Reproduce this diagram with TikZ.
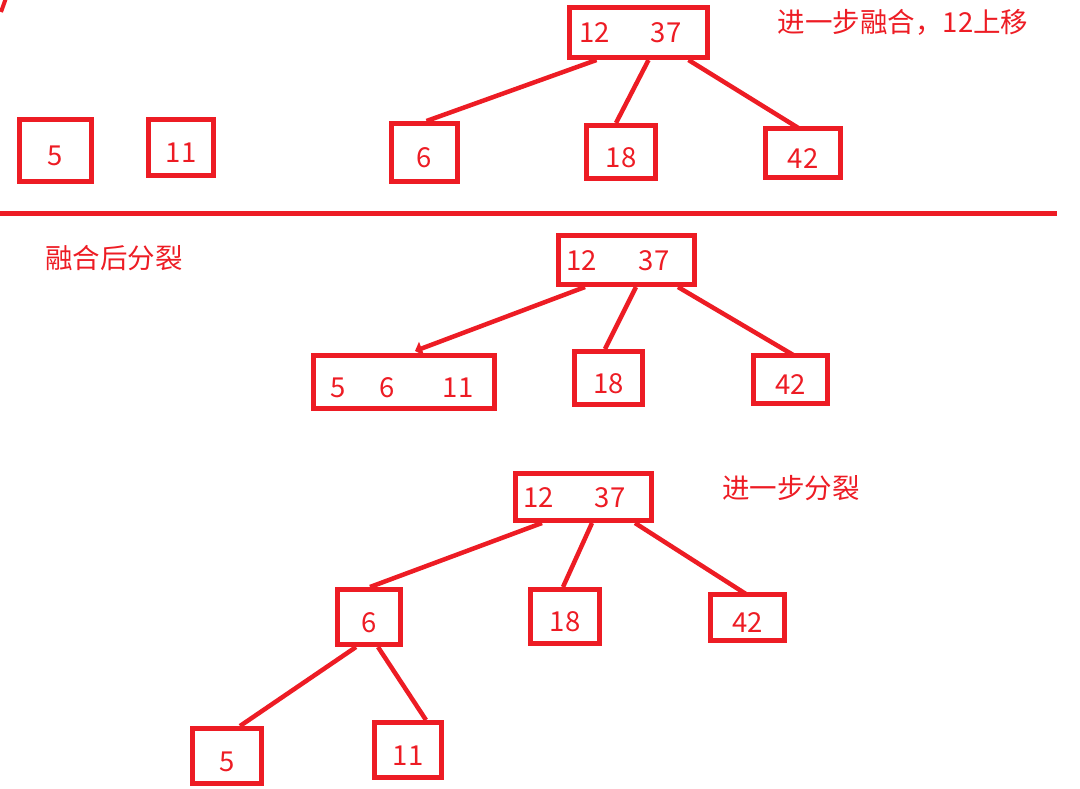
\documentclass[tikz,border=0pt]{standalone}
\usepackage{fontspec}
\setmainfont{Noto Sans CJK SC}
\usepackage{tikz}
\usetikzlibrary{arrows.meta, positioning, calc}
\definecolor{pred}{RGB}{237,28,36}

\begin{document}
\begin{tikzpicture}[x=1pt, y=-1pt,
    key/.style={draw=pred, text=pred, line width=5pt, inner sep=0pt, minimum width=66pt, minimum height=56pt, text height=30pt, text depth=0pt, font=\fontsize{27.5}{33}\selectfont},
    pair/.style={key, text height=20pt},
    link/.style={draw=pred, line width=4.5pt},
    note/.style={text=pred, inner sep=0pt, font=\fontsize{27.5}{33}\selectfont},
]
  \useasboundingbox (0,0) rectangle (1080,788);

  % Step 1: merge, 12 moves up
  \node[pair, minimum width=138pt, minimum height=50pt] (r1) at (638.5,32.5) {12\hspace{41pt}37\kern16pt};
  \node[key, minimum width=72pt, minimum height=62pt] (t5) at (55,150) {5};
  \node[key, minimum width=65pt, minimum height=56pt] (t11) at (181,147.5) {11};
  \node[key, minimum width=66pt, minimum height=58pt] (t6) at (424.5,152.5) {6};
  \node[key, minimum width=69pt, minimum height=53pt] (t18) at (621,152) {18};
  \node[key, minimum width=75pt, minimum height=49pt] (t42) at (803,153) {42};
  \node[note] (n1) at (903,22) {进一步融合，12上移};

  \draw[link] ([xshift=-42pt]r1.south) -- ([xshift=2pt]t6.north);
  \draw[link] ([xshift=10pt]r1.south) -- ([xshift=-5pt]t18.north);
  \draw[link] ([xshift=50pt]r1.south) -- ([xshift=-3pt, yshift=-3pt]t42.north);

  \draw[pred, line width=4pt] (6,-2) -- (1,12);
  \draw[pred, line width=5pt] (0,213) -- (1057,213);

  % Step 2: split after merge
  \node[note] (n2) at (114,258) {融合后分裂};
  \node[pair, minimum width=136pt, minimum height=49pt] (r2) at (626.5,260) {12\hspace{42pt}37\kern17pt};
  \node[key, minimum width=181pt, minimum height=53pt] (m5) at (404,382) {5\hspace{34pt}6\hspace{48pt}11\kern4pt};
  \node[key, minimum width=68pt, minimum height=53pt] (m18) at (608.5,378) {18};
  \node[key, minimum width=74pt, minimum height=48pt] (m42) at (790.5,379.5) {42};

  \draw[link, -{Triangle[width=14pt, length=7pt]}] ([xshift=-41.5pt]r2.south) -- ([xshift=11pt, yshift=2pt]m5.north);
  \draw[link] ([xshift=9.5pt]r2.south) -- ([xshift=-3.5pt]m18.north);
  \draw[link] ([xshift=51.5pt]r2.south) -- ([xshift=4.5pt, yshift=-3pt]m42.north);

  % Step 3: further split
  \node[note] (n3) at (791,488) {进一步分裂};
  \node[pair, minimum width=136pt, minimum height=47pt] (r3) at (583.5,497) {12\hspace{41pt}37\kern18pt};
  \node[key, minimum width=63pt, minimum height=55pt] (b6) at (369,617) {6};
  \node[key, minimum width=69pt, minimum height=54pt] (b18) at (565,616.5) {18};
  \node[key, minimum width=74pt, minimum height=46pt] (b42) at (747.5,617.5) {42};
  \node[key, minimum width=69pt, minimum height=55pt] (b5) at (227,756) {5};
  \node[key, minimum width=67pt, minimum height=55pt] (b11) at (408,750) {11};

  \draw[link] ([xshift=-41.5pt]r3.south) -- ([xshift=1pt]b6.north);
  \draw[link] ([xshift=8.5pt]r3.south) -- ([xshift=-2pt]b18.north);
  \draw[link] ([xshift=51.5pt]r3.south) -- ([yshift=-3pt]b42.north);
  \draw[link] ([xshift=-13pt]b6.south) -- ([xshift=13pt]b5.north);
  \draw[link] ([xshift=9pt]b6.south) -- ([xshift=18pt]b11.north);
\end{tikzpicture}
\end{document}
